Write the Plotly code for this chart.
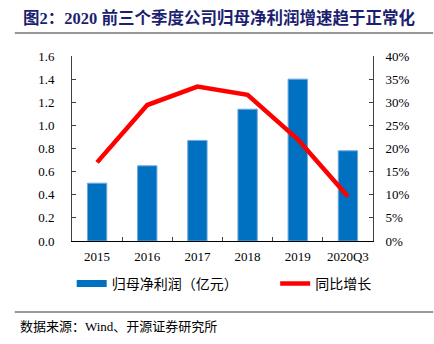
import plotly.graph_objects as go

# Net profit attributable to parent (100m CNY) and YoY growth (%)
years = ["2015", "2016", "2017", "2018", "2019", "2020Q3"]
net_profit = [0.50, 0.65, 0.87, 1.14, 1.40, 0.78]
yoy_growth = [17.0, 29.4, 33.4, 31.6, 22.0, 9.6]

left_ticks = [0, 0.2, 0.4, 0.6, 0.8, 1.0, 1.2, 1.4, 1.6]
right_ticks = [0, 5, 10, 15, 20, 25, 30, 35, 40]
right_labels = [f"{v}%" for v in right_ticks]

BLUE = "#0070C0"
RED = "#FF0000"
SERIF = "Liberation Serif, Times New Roman, Noto Sans CJK SC"
CJK = "Noto Sans CJK SC"

fig = go.Figure()

fig.add_trace(go.Bar(
    x=years, y=net_profit, name="归母净利润（亿元）",
    marker=dict(color=BLUE, line=dict(color="#6FA8DC", width=1)),
    width=0.385, showlegend=False, yaxis="y",
))
# legend swatch for the bars: a wide flat blue bar
fig.add_trace(go.Scatter(
    x=[None], y=[None], mode="lines", name="归母净利润（亿元）",
    line=dict(color=BLUE, width=7), yaxis="y", legend="legend",
))
fig.add_trace(go.Scatter(
    x=years, y=yoy_growth, mode="lines", name="同比增长",
    line=dict(color=RED, width=4.5), yaxis="y2", legend="legend2",
))

axis_line = "#404040"
legend_y = -0.232

fig.update_layout(
    width=434, height=344,
    margin=dict(l=72, r=61, t=56, b=103),
    paper_bgcolor="white", plot_bgcolor="white",
    font=dict(family=SERIF, size=13, color="#000000"),
    xaxis=dict(
        type="category", tickson="boundaries", tickangle=0,
        ticks="inside", ticklen=4, tickcolor=axis_line,
        showline=True, linecolor="#000000", linewidth=1,
        showgrid=False, tickfont=dict(family=SERIF, size=13),
        ticklabelstandoff=3,
        range=[-0.5, 5.5],
    ),
    yaxis=dict(
        range=[0, 1.6], tickvals=left_ticks, tickformat=".1f",
        ticks="inside", ticklen=4, tickcolor=axis_line,
        showline=True, linecolor=axis_line, linewidth=1,
        showgrid=False, zeroline=False,
        ticklabelstandoff=14,
        tickfont=dict(family=SERIF, size=13),
    ),
    yaxis2=dict(
        range=[0, 40], tickmode="array", tickvals=right_ticks,
        ticktext=right_labels,
        overlaying="y", side="right",
        ticks="inside", ticklen=4, tickcolor=axis_line,
        showline=True, linecolor=axis_line, linewidth=1,
        showgrid=False, zeroline=False,
        ticklabelstandoff=9,
        tickfont=dict(family=SERIF, size=13),
    ),
    legend=dict(
        orientation="h", x=-0.001, y=legend_y, xanchor="left", yanchor="middle",
        font=dict(family=CJK, size=14), bgcolor="rgba(0,0,0,0)",
    ),
    legend2=dict(
        orientation="h", x=0.675, y=legend_y, xanchor="left", yanchor="middle",
        font=dict(family=CJK, size=14), bgcolor="rgba(0,0,0,0)",
    ),
    bargap=0.6,
    shapes=[
        dict(type="line", xref="paper", yref="paper", x0=-0.19, x1=1.2,
             y0=1.0 + 23 / 185, y1=1.0 + 23 / 185,
             line=dict(color="#333333", width=1)),
        dict(type="line", xref="paper", yref="paper", x0=-0.19, x1=1.2,
             y0=-71 / 185, y1=-71 / 185,
             line=dict(color="#333333", width=1)),
    ],
    annotations=[
        dict(text="<b>图2：2020 前三个季度公司归母净利润增速趋于正常化</b>",
             xref="paper", yref="paper", x=-0.17, y=1.0 + 38 / 185,
             xanchor="left", yanchor="middle", showarrow=False,
             font=dict(family=SERIF, size=16.5, color="#1C1F70")),
        dict(text="数据来源：Wind、开源证券研究所",
             xref="paper", yref="paper", x=-0.18, y=-85 / 185,
             xanchor="left", yanchor="middle", showarrow=False,
             font=dict(family=SERIF, size=13, color="#000000")),
    ],
)

fig.write_html("out.html")
